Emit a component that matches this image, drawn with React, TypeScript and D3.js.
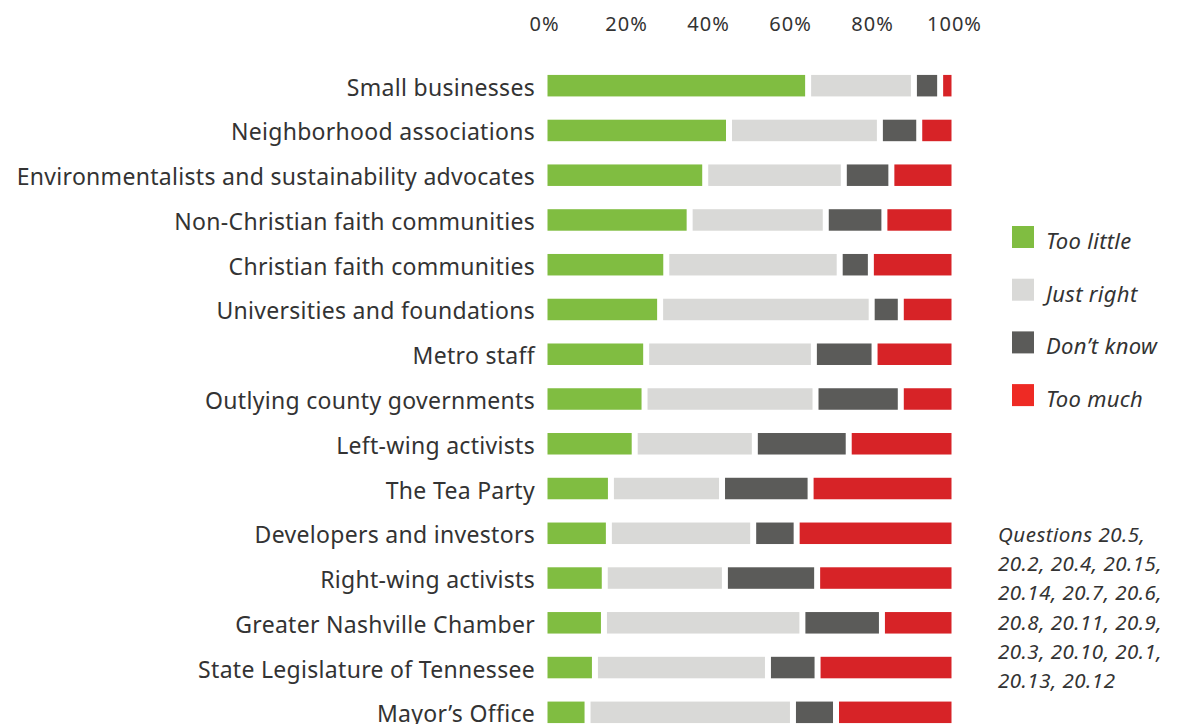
import React from "react";
import * as d3 from "d3";

const categories = [
  "Small businesses",
  "Neighborhood associations",
  "Environmentalists and sustainability advocates",
  "Non-Christian faith communities",
  "Christian faith communities",
  "Universities and foundations",
  "Metro staff",
  "Outlying county governments",
  "Left-wing activists",
  "The Tea Party",
  "Developers and investors",
  "Right-wing activists",
  "Greater Nashville Chamber",
  "State Legislature of Tennessee",
  "Mayor’s Office",
];

const seriesNames = ["Too little", "Just right", "Don’t know", "Too much"];

const tooLittle = [64.3, 45.0, 39.2, 35.4, 29.7, 28.2, 24.8, 24.4, 22.0, 16.2, 15.7, 14.7, 14.5, 12.3, 10.5];
const justRight = [25.8, 36.8, 33.8, 33.2, 42.3, 51.6, 40.9, 41.7, 29.3, 27.1, 35.2, 29.3, 48.4, 42.2, 50.1];
const dontKnow = [6.4, 9.6, 11.6, 14.3, 7.6, 7.1, 14.8, 20.8, 22.9, 21.6, 10.6, 22.5, 19.4, 12.1, 10.5];
const tooMuch = [3.5, 8.6, 15.4, 17.1, 20.4, 13.1, 19.5, 13.1, 25.8, 35.1, 38.5, 33.5, 17.7, 33.4, 28.9];

const tickValues = [0, 20, 40, 60, 80, 100];

const noteLines = [
  "Questions 20.5,",
  "20.2, 20.4, 20.15,",
  "20.14, 20.7, 20.6,",
  "20.8, 20.11, 20.9,",
  "20.3, 20.10, 20.1,",
  "20.13, 20.12",
];

const barColors = ["#80bd41", "#d9d9d7", "#5b5b59", "#d72327"];
const legendColors = ["#80bd41", "#d9d9d7", "#5b5b59", "#ee2a24"];

export default function App() {
  const W = 1180;
  const H = 724;
  const font = "'Noto Sans', 'Open Sans', sans-serif";

  const x = d3.scaleLinear().domain([0, 100]).range([544.5, 954.5]);
  const y = d3
    .scaleBand<string>()
    .domain(categories)
    .range([63.3, 63.3 + 44.76 * categories.length])
    .paddingInner(0.52)
    .paddingOuter(0.26);

  const rows = categories.map((c, i) => ({
    c,
    vals: [tooLittle[i], justRight[i], dontKnow[i], tooMuch[i]],
  }));
  const stack = d3
    .stack<{ c: string; vals: number[] }, number>()
    .keys([0, 1, 2, 3])
    .value((d, k) => d.vals[k]);
  const stacked = stack(rows);

  const inset = 3;
  const bh = 21.5;

  return (
    <svg width={W} height={H} style={{ position: "absolute", left: 0, top: 0 }}>
      <rect width={W} height={H} fill="#ffffff" />
      {tickValues.map((t) => (
        <text
          key={t}
          x={x(t)}
          y={30.5}
          textAnchor="middle"
          fontFamily={font}
          fontSize={20}
          letterSpacing={1}
          fill="#333333"
        >
          {t}%
        </text>
      ))}
      {stacked.map((layer, k) => (
        <g key={k}>
          {layer.map((seg, i) => {
            const c = categories[i];
            const yc = (y(c) as number) + y.bandwidth() / 2;
            const x0 = x(seg[0]) + inset;
            const x1 = x(seg[1]) - inset;
            return (
              <rect
                key={c}
                x={x0}
                y={yc - bh / 2}
                width={Math.max(0, x1 - x0)}
                height={bh}
                fill={barColors[k]}
              />
            );
          })}
        </g>
      ))}
      {categories.map((c) => (
        <text
          key={c}
          x={535}
          y={(y(c) as number) + y.bandwidth() / 2 + 1}
          textAnchor="end"
          dominantBaseline="central"
          fontFamily={font}
          fontSize={23}
          letterSpacing={0.3}
          fill="#333333"
        >
          {c}
        </text>
      ))}
      {seriesNames.map((s, k) => (
        <g key={s} transform={`translate(1012, ${226 + k * 52.7})`}>
          <rect width={22} height={22} fill={legendColors[k]} />
          <text
            x={34}
            y={14}
            dominantBaseline="central"
            fontFamily={font}
            fontStyle="italic"
            fontSize={22}
            letterSpacing={0.3}
            fill="#333333"
          >
            {s}
          </text>
        </g>
      ))}
      {noteLines.map((l, i) => (
        <text
          key={i}
          x={998}
          y={542 + i * 29.2}
          fontFamily={font}
          fontStyle="italic"
          fontSize={20.5}
          letterSpacing={0.5}
          fill="#333333"
        >
          {l}
        </text>
      ))}
    </svg>
  );
}
